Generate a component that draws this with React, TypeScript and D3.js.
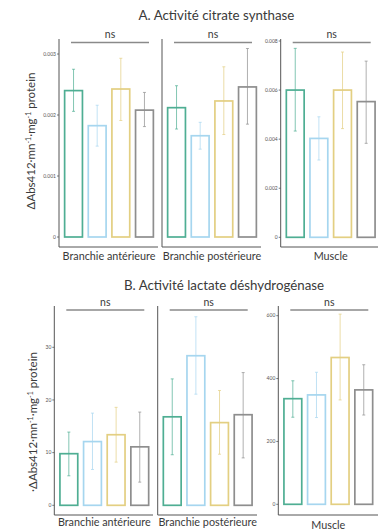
import React from "react";
import * as d3 from "d3";

const groups = ["G1", "G2", "G3", "G4"];
const groupColors = ["#4fae93", "#a6d6ef", "#e3cf82", "#8e8e8e"];
const tissues = ["Branchie antérieure", "Branchie postérieure", "Muscle"];

// A. citrate synthase
const csMean = [
  [0.0024, 0.001825, 0.002426, 0.00208],
  [0.00212, 0.00166, 0.00223, 0.00246],
  [0.006, 0.00403, 0.006, 0.00553],
];
const csLow = [
  [0.00206, 0.00149, 0.00191, 0.00181],
  [0.00177, 0.00144, 0.00168, 0.00185],
  [0.00433, 0.00315, 0.00443, 0.00383],
];
const csHigh = [
  [0.00275, 0.00216, 0.00293, 0.00237],
  [0.00248, 0.00188, 0.00279, 0.00309],
  [0.0077, 0.00491, 0.00755, 0.00718],
];
const csTicksGill = [0, 0.001, 0.002, 0.003];
const csTicksMuscle = [0, 0.002, 0.004, 0.006, 0.008];

// B. lactate déshydrogénase
const ldhMean = [
  [9.8, 12.1, 13.4, 11.1],
  [16.8, 28.4, 15.7, 17.2],
  [336, 348, 467, 364],
];
const ldhLow = [
  [5.6, 6.8, 8.2, 4.4],
  [9.6, 21.1, 9.7, 9.0],
  [277, 276, 332, 284],
];
const ldhHigh = [
  [13.9, 17.5, 18.6, 17.7],
  [24.0, 35.8, 21.8, 25.2],
  [393, 420, 605, 444],
];
const ldhTicksGill = [0, 10, 20, 30];
const ldhTicksMuscle = [0, 200, 400, 600];

const FONT = "Lato, 'Open Sans', sans-serif";
const TXT = "#3a3a3a";

type PanelProps = {
  x0: number;
  x1: number;
  yTop: number;
  yBottom: number;
  y: d3.ScaleLinear<number, number>;
  ticks: number[] | null;
  fmt: (v: number) => string;
  mean: number[];
  low: number[];
  high: number[];
  label: string;
  labelY: number;
  nsY: number;
};

function Panel(p: PanelProps) {
  const x = d3
    .scaleBand<string>()
    .domain(groups)
    .range([p.x0, p.x0 + 100])
    .paddingInner(0.17)
    .paddingOuter(0.2);
  const bw = x.bandwidth();
  const y0 = p.y(0);
  return (
    <g>
      {p.mean.map((m, i) => {
        const g = groups[i];
        const cx = (x(g) as number) + bw / 2;
        return (
          <g key={g}>
            <rect
              x={(x(g) as number) + 0.9}
              y={p.y(m)}
              width={bw - 1.8}
              height={y0 - p.y(m)}
              fill="white"
              stroke={groupColors[i]}
              strokeWidth={1.7}
            />
            <g stroke={groupColors[i]} strokeOpacity={0.7} strokeWidth={1}>
              <line x1={cx} x2={cx} y1={p.y(p.low[i])} y2={p.y(p.high[i])} />
              <line x1={cx - 1.5} x2={cx + 1.5} y1={p.y(p.low[i])} y2={p.y(p.low[i])} />
              <line x1={cx - 1.5} x2={cx + 1.5} y1={p.y(p.high[i])} y2={p.y(p.high[i])} />
            </g>
          </g>
        );
      })}
      <line x1={p.x0} x2={p.x0} y1={p.yTop} y2={p.yBottom} stroke="#555" strokeWidth={1} />
      <line x1={p.x0} x2={p.x1} y1={p.yBottom} y2={p.yBottom} stroke="#555" strokeWidth={1} />
      {p.ticks &&
        p.ticks.map((t) => (
          <g key={t}>
            <line x1={p.x0 - 2} x2={p.x0} y1={p.y(t)} y2={p.y(t)} stroke="#555" strokeWidth={0.8} />
            <text
              x={p.x0 - 3}
              y={p.y(t)}
              dy="0.33em"
              textAnchor="end"
              fontSize={5}
              fill="#555"
              fontFamily={FONT}
            >
              {p.fmt(t)}
            </text>
          </g>
        ))}
      <line x1={p.x0 + 12} x2={p.x0 + 90} y1={p.nsY} y2={p.nsY} stroke="#8a8a8a" strokeWidth={1.5} />
      <text
        x={p.x0 + 51}
        y={p.nsY - 4.5}
        textAnchor="middle"
        fontSize={10.5}
        fill={TXT}
        fontFamily={FONT}
      >
        ns
      </text>
      <text
        x={(p.x0 + p.x0 + 100) / 2}
        y={p.labelY}
        textAnchor="middle"
        fontSize={10.8}
        fill={TXT}
        fontFamily={FONT}
      >
        {p.label}
      </text>
    </g>
  );
}

function YTitle({ x, y, dot }: { x: number; y: number; dot?: boolean }) {
  return (
    <text
      transform={`translate(${x},${y}) rotate(-90)`}
      textAnchor="middle"
      fontSize={11.5}
      fill={TXT}
      fontFamily={FONT}
      dy="0.35em"
    >
      {dot ? "·" : ""}ΔAbs412·mn
      <tspan fontSize={7} dy="-4.5">-1</tspan>
      <tspan dy="4.5">·mg</tspan>
      <tspan fontSize={7} dy="-4.5">-1</tspan>
      <tspan dy="4.5"> protein</tspan>
    </text>
  );
}

export default function App() {
  const fmtSmall = (v: number) => (v === 0 ? "0" : d3.format(".3f")(v));
  const fmtInt = (v: number) => String(v);

  const yCsGill = d3.scaleLinear().domain([0, 0.003]).range([237, 54]);
  const yCsMuscle = d3.scaleLinear().domain([0, 0.008]).range([237.3, 41]);
  const yLdhGill = d3.scaleLinear().domain([0, 30]).range([505.3, 347.3]);
  const yLdhMuscle = d3.scaleLinear().domain([0, 600]).range([504.3, 315.7]);

  const aX = [59, 162, 280.7];
  const aX1 = [158, 261, 380];
  const bX = [54.3, 157.7, 278.3];
  const bX1 = [153, 257, 380];

  return (
    <svg
      width={378}
      height={532}
      style={{ position: "absolute", left: 0, top: 0, background: "white" }}
    >
      <text x={216.5} y={19.5} textAnchor="middle" fontSize={13.3} fill={TXT} fontFamily={FONT}>
        A. Activité citrate synthase
      </text>
      <text x={224} y={289.5} textAnchor="middle" fontSize={13.3} fill={TXT} fontFamily={FONT}>
        B. Activité lactate déshydrogénase
      </text>
      <YTitle x={31} y={141} />
      <YTitle x={33} y={422} dot />
      {tissues.map((t, i) => (
        <Panel
          key={"a" + t}
          x0={aX[i]}
          x1={aX1[i]}
          yTop={39}
          yBottom={247}
          y={i === 2 ? yCsMuscle : yCsGill}
          ticks={i === 0 ? csTicksGill : i === 2 ? csTicksMuscle : null}
          fmt={fmtSmall}
          mean={csMean[i]}
          low={csLow[i]}
          high={csHigh[i]}
          label={t}
          labelY={259.5}
          nsY={42.5}
        />
      ))}
      {tissues.map((t, i) => (
        <Panel
          key={"b" + t}
          x0={bX[i]}
          x1={bX1[i]}
          yTop={306}
          yBottom={515}
          y={i === 2 ? yLdhMuscle : yLdhGill}
          ticks={i === 0 ? ldhTicksGill : i === 2 ? ldhTicksMuscle : null}
          fmt={fmtInt}
          mean={ldhMean[i]}
          low={ldhLow[i]}
          high={ldhHigh[i]}
          label={t}
          labelY={i === 2 ? 529 : 525.5}
          nsY={310}
        />
      ))}
    </svg>
  );
}
